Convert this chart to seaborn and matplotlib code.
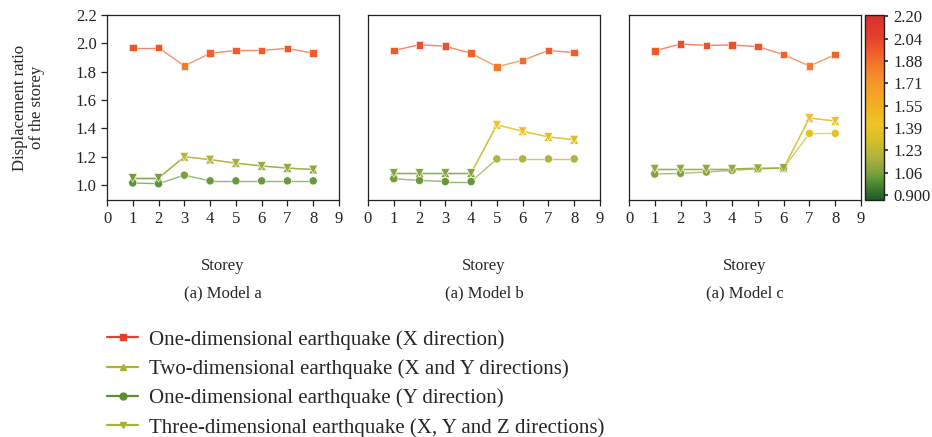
import numpy as np
import pandas as pd
import matplotlib
matplotlib.use("Agg")
import matplotlib.pyplot as plt
import seaborn as sns
from matplotlib.colors import LinearSegmentedColormap, Normalize
from matplotlib.collections import LineCollection
from matplotlib.lines import Line2D

# ---------------- data ----------------
storeys = [1, 2, 3, 4, 5, 6, 7, 8]
models = ["(a) Model a", "(a) Model b", "(a) Model c"]

x_dir_a = [1.97, 1.97, 1.84, 1.93, 1.95, 1.95, 1.965, 1.93]
xy_dir_a = [1.05, 1.05, 1.20, 1.18, 1.155, 1.135, 1.12, 1.11]
y_dir_a = [1.015, 1.01, 1.07, 1.03, 1.03, 1.03, 1.03, 1.03]
xyz_dir_a = [1.05, 1.05, 1.20, 1.18, 1.155, 1.135, 1.12, 1.11]

x_dir_b = [1.95, 1.99, 1.98, 1.93, 1.835, 1.88, 1.95, 1.935]
xy_dir_b = [1.085, 1.085, 1.085, 1.085, 1.425, 1.38, 1.34, 1.32]
y_dir_b = [1.045, 1.033, 1.025, 1.025, 1.185, 1.185, 1.185, 1.185]
xyz_dir_b = [1.085, 1.085, 1.085, 1.085, 1.425, 1.38, 1.34, 1.32]

x_dir_c = [1.948, 1.995, 1.986, 1.988, 1.977, 1.92, 1.84, 1.92]
xy_dir_c = [1.115, 1.115, 1.115, 1.115, 1.118, 1.12, 1.473, 1.452]
y_dir_c = [1.078, 1.083, 1.092, 1.104, 1.115, 1.12, 1.365, 1.365]
xyz_dir_c = [1.115, 1.115, 1.115, 1.115, 1.118, 1.12, 1.473, 1.452]

series_names = [
    "One-dimensional earthquake (X direction)",
    "Two-dimensional earthquake (X and Y directions)",
    "One-dimensional earthquake (Y direction)",
    "Three-dimensional earthquake (X, Y and Z directions)",
]
series_markers = ["s", "^", "o", "v"]
legend_colors = ["#e8412b", "#a9b232", "#5e8e32", "#a9b232"]

y_ticks = [1.0, 1.2, 1.4, 1.6, 1.8, 2.0, 2.2]
x_ticks = [0, 1, 2, 3, 4, 5, 6, 7, 8, 9]
cbar_ticks = [0.900, 1.0625, 1.225, 1.3875, 1.55, 1.7125, 1.875, 2.0375, 2.20]
cbar_labels = ["0.900", "1.06", "1.23", "1.39", "1.55", "1.71", "1.88", "2.04", "2.20"]

# colour stops of the colour scale (value, colour)
cmap_values = [0.865, 0.95, 1.03, 1.10, 1.19, 1.30, 1.42, 1.55, 1.71, 1.84, 1.95, 2.05, 2.21]
cmap_colors = ["#1e5c28", "#3f7a2e", "#6a9a3a", "#90a63c", "#b4b43a", "#d6be28", "#f0c428",
               "#f2b020", "#f4982a", "#f47a2c", "#f05a28", "#e6402a", "#d8302f"]

panel_data = [
    [x_dir_a, xy_dir_a, y_dir_a, xyz_dir_a],
    [x_dir_b, xy_dir_b, y_dir_b, xyz_dir_b],
    [x_dir_c, xy_dir_c, y_dir_c, xyz_dir_c],
]

# ---------------- style ----------------
sns.set_theme(style="ticks")
plt.rcParams["font.family"] = ["Liberation Serif", "DejaVu Serif"]
plt.rcParams["axes.linewidth"] = 0.9

vmin, vmax = cmap_values[0], cmap_values[-1]
cmap = LinearSegmentedColormap.from_list(
    "disp", [((v - vmin) / (vmax - vmin), c) for v, c in zip(cmap_values, cmap_colors)])
norm = Normalize(vmin=vmin, vmax=vmax)

W, H = 932, 437
fig = plt.figure(figsize=(W / 100, H / 100), dpi=100)

def fx(px):
    return px / W

ax_top, ax_bot = 15, 200
lefts = [107, 368, 629]
width = 232
marker_sizes = {"s": 30, "^": 40, "o": 34, "v": 40}

for i, (left, data, title) in enumerate(zip(lefts, panel_data, models)):
    ax = fig.add_axes([fx(left), 1 - ax_bot / H, fx(width), (ax_bot - ax_top) / H])
    for vals, mk in zip(data, series_markers):
        xs = np.array(storeys, dtype=float)
        ys = np.array(vals, dtype=float)
        pts = np.column_stack([xs, ys]).reshape(-1, 1, 2)
        segs = np.concatenate([pts[:-1], pts[1:]], axis=1)
        lc = LineCollection(segs, cmap=cmap, norm=norm, linewidths=1.0, alpha=0.7, zorder=2)
        lc.set_array((ys[:-1] + ys[1:]) / 2)
        ax.add_collection(lc)
        df = pd.DataFrame({"Storey": storeys, "Ratio": vals})
        sns.scatterplot(data=df, x="Storey", y="Ratio", hue="Ratio", palette=cmap,
                        hue_norm=norm, marker=mk, s=marker_sizes[mk], edgecolor="#ffffff",
                        linewidth=0.4, legend=False, ax=ax, zorder=3)
    ax.set_xlim(0, 9)
    ax.set_ylim(0.895, 2.2)
    ax.set_xticks(x_ticks)
    ax.set_xticklabels([str(t) for t in x_ticks], fontsize=12)
    ax.tick_params(axis="x", direction="out", length=4, width=0.9, pad=4, colors="#222222")
    for sp in ax.spines.values():
        sp.set_visible(True)
        sp.set_color("#222222")
    if i == 0:
        ax.set_yticks(y_ticks)
        ax.set_yticklabels([f"{t:.1f}" for t in y_ticks], fontsize=12)
        ax.tick_params(axis="y", direction="out", length=4, width=0.9, colors="#222222")
        ax.set_ylabel("Displacement ratio\nof the storey", fontsize=12, labelpad=22,
                      linespacing=1.1)
    else:
        ax.set_yticks([])
        ax.set_ylabel("")
    ax.set_xlabel("Storey", fontsize=12)
    ax.xaxis.set_label_coords(0.5, -0.315)
    ax.text(0.5, -0.505, title, transform=ax.transAxes, ha="center", va="center", fontsize=12)

# colorbar
cax = fig.add_axes([fx(865), 1 - ax_bot / H, fx(19), (ax_bot - ax_top) / H])
sm = plt.cm.ScalarMappable(cmap=cmap, norm=norm)
cb = fig.colorbar(sm, cax=cax)
cb.set_ticks(cbar_ticks)
cb.set_ticklabels(cbar_labels)
cb.ax.tick_params(labelsize=12, length=3, width=1.2, direction="out", colors="#222222")
cb.outline.set_linewidth(1.0)
cb.outline.set_edgecolor("#222222")

# legend
handles = [Line2D([0], [0], color=c, marker=m, markersize=5, linewidth=1.6)
           for c, m in zip(legend_colors, series_markers)]
fig.legend(handles, series_names, loc="upper left", bbox_to_anchor=(fx(107), 1 - 330 / H),
           frameon=False, fontsize=15, handlelength=1.5, handletextpad=0.5,
           labelspacing=0.46, borderaxespad=0, borderpad=0)

fig.savefig("out.png", dpi=100)
